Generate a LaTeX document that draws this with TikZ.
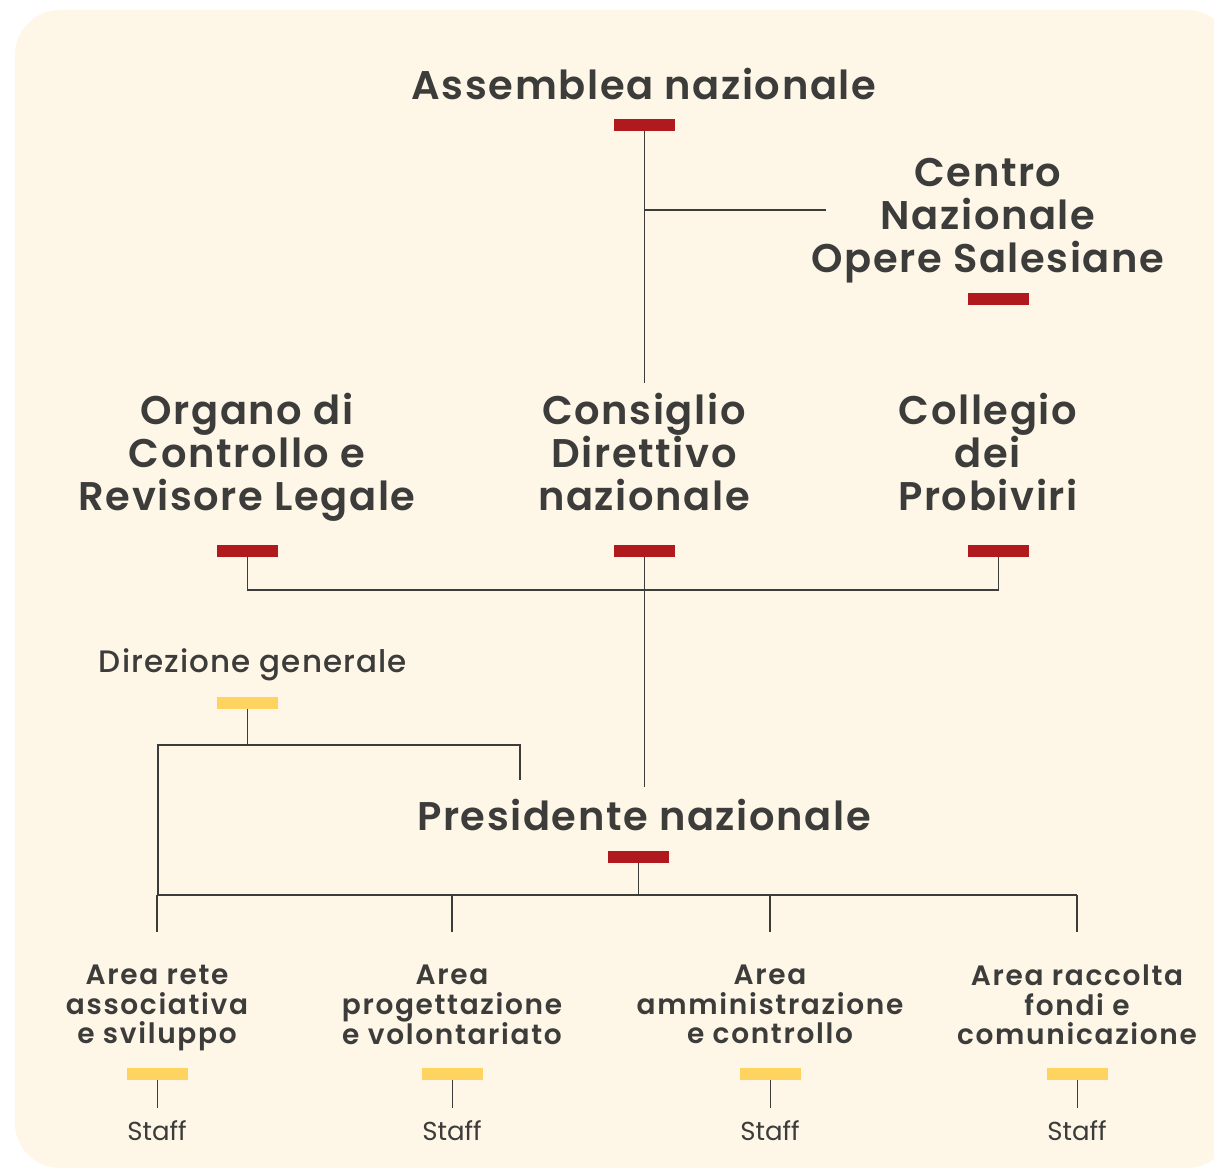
\documentclass[tikz,border=0pt]{standalone}
\usepackage{fontspec}
\setmainfont{Poppins}[BoldFont={Poppins SemiBold}]
\newfontfamily\medfont{Poppins Medium}
\definecolor{bgcream}{HTML}{FEF6E7}
\definecolor{barred}{HTML}{B0191E}
\definecolor{baryellow}{HTML}{FFD35F}
\definecolor{inkgrey}{HTML}{3C3C3B}
\begin{document}
\begin{tikzpicture}[x=1pt,y=-1pt,
  title/.style={text=inkgrey,font=\bfseries\addfontfeatures{LetterSpace=4}\fontsize{40}{43}\selectfont,align=center,inner sep=0pt},
  dirtext/.style={text=inkgrey,font=\medfont\addfontfeatures{LetterSpace=3.5}\fontsize{31}{34}\selectfont,inner sep=0pt},
  areatext/.style={text=inkgrey,font=\bfseries\addfontfeatures{LetterSpace=6}\fontsize{28}{29.5}\selectfont,align=center,inner sep=0pt},
  stafftext/.style={text=inkgrey,font=\fontsize{26}{28}\selectfont,inner sep=0pt},
  redbar/.style={fill=barred,minimum width=61pt,minimum height=12pt,inner sep=0pt},
  yellowbar/.style={fill=baryellow,minimum width=61pt,minimum height=12pt,inner sep=0pt},
  link/.style={draw=inkgrey,line width=1.6pt}]
\useasboundingbox (0,0) rectangle (1214,1169);
\fill[bgcream,rounded corners=45pt] (15,10) rectangle (1232,1168);
% top level
\node[title] (asm) at (644,84) {Assemblea nazionale};
\node[redbar] (asmbar) at (644.5,125) {};
\node[title] (cnos) at (988,221) {Centro\\Nazionale\\Opere Salesiane};
\node[redbar] (cnosbar) at (998.5,299) {};
% second level
\node[title] (orgc) at (247,457) {Organo di\\Controllo e\\Revisore Legale};
\node[redbar] (orgcbar) at (247.5,551) {};
\node[title] (cdn) at (644,452) {Consiglio\\Direttivo\\nazionale};
\node[redbar] (cdnbar) at (644.5,551) {};
\node[title] (prob) at (988,452) {Collegio\\dei\\Probiviri};
\node[redbar] (probbar) at (998.5,551) {};
% direzione and presidente
\node[dirtext] (dirg) at (253,665) {Direzione generale};
\node[yellowbar] (dirgbar) at (247.5,703) {};
\node[title] (pres) at (644,815) {Presidente nazionale};
\node[redbar] (presbar) at (638.5,857) {};
% junctions
\coordinate (cnosw) at (826,210);
\coordinate (cj) at (644.5,590);
\coordinate (dl) at (158,745);
\coordinate (dr) at (520,745);
\coordinate (dre) at (520,780);
\coordinate (pj) at (644,895);
\coordinate (pl) at (158,895);
\coordinate (pr) at (1077,895);
\draw[link] (asmbar.south) -- (asmbar.south |- 0,383);
\draw[link] (asmbar.south |- cnosw) -- (cnosw);
\draw[link] (orgcbar.south) |- (cj) -| (probbar.south);
\draw[link] (cdnbar.south) -- (cdnbar.south |- 0,787);
\draw[link] (dirgbar.south) -- (dirgbar.south |- dl);
\draw[link] (pl) -- (dl) -- (dr) -- (dre);
\draw[link] (presbar.south) -- (presbar.south |- pj);
\draw[link] (pl) -- (pr);
% areas
\foreach \x/\n/\t in {157/1/{Area rete\\associativa\\e sviluppo},
                      452/2/{Area\\progettazione\\e volontariato},
                      770/3/{Area\\amministrazione\\e controllo},
                      1077/4/{Area raccolta\\fondi e\\comunicazione}}{
  \node[areatext,anchor=north] (area\n) at (\x,965) {\t};
  \node[yellowbar] (abar\n) at (\x+0.5,1074) {};
  \node[stafftext] (staff\n) at (\x,1131) {Staff};
  \draw[link] (\x,895) -- (\x,932);
  \draw[link] (abar\n.south) -- (abar\n.south |- 0,1108);
}
\end{tikzpicture}
\end{document}
